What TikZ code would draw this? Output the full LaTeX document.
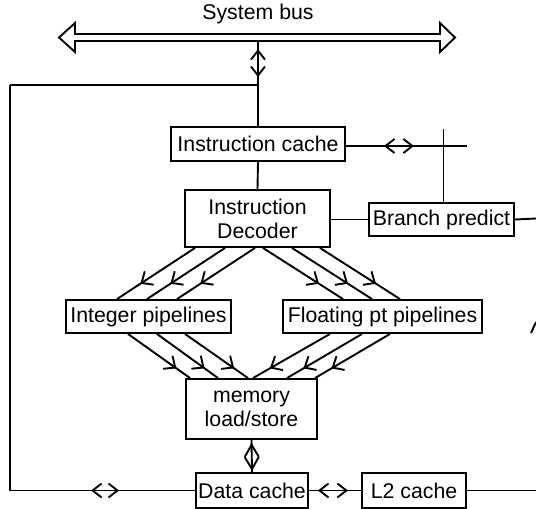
\documentclass[tikz,border=0pt]{standalone}
\usepackage{fontspec}
\setmainfont{Liberation Sans}
\usetikzlibrary{arrows.meta,decorations.markings}
\tikzset{
  chev/.tip={Straight Barb[length=9pt,width=14pt,line width=1.9pt]},
  vchev/.tip={Straight Barb[length=12pt,width=14pt,line width=1.9pt]},
  fchev/.tip={Straight Barb[length=9pt,width=16pt,line width=1.9pt]},
}
\begin{document}
\begin{tikzpicture}[x=1pt,y=-1pt,
  lw/.style={line width=1.9pt},
  box/.style={draw,lw,inner sep=0pt,align=center,font=\fontsize{21.3}{24}\selectfont},
  flow/.style={lw,postaction={decorate},decoration={markings,mark=at position #1 with {\arrow{fchev}}}},
]
\useasboundingbox (0,0) rectangle (536,509);
% system bus
\draw[lw] (59,37.5) -- (75,23) -- (75,34) -- (440,34) -- (440,23) -- (455,37.5) -- (440,52) -- (440,41) -- (75,41) -- (75,52) -- cycle;
\node[font=\fontsize{21.3}{24}\selectfont] (buslbl) at (258,14) {System bus};
\coordinate (bus) at (258,41);
% boxes
\node[box,minimum width=174pt,minimum height=34pt] (icache) at (258,144) {Instruction cache};
\node[box,minimum width=145pt,minimum height=57pt] (dec) at (257.5,218.5) {Instruction\\Decoder};
\node[box,minimum width=145pt,minimum height=33pt] (bp) at (441.5,219.5) {Branch predict};
\node[box,minimum width=165pt,minimum height=33pt] (intp) at (148.5,316.5) {Integer pipelines};
\node[box,minimum width=199pt,minimum height=33pt] (fpp) at (382.5,316.5) {Floating pt pipelines};
\node[box,minimum width=131pt,minimum height=60pt] (mem) at (251.5,409) {memory\\load/store};
\node[box,minimum width=112pt,minimum height=35pt] (dc) at (252,490.5) {Data cache};
\node[box,minimum width=104pt,minimum height=35pt] (l2) at (414,490.5) {L2 cache};
% coordinates
\coordinate (jl) at (258,85);
\coordinate (lt) at (10,85);
\coordinate (lb) at (10,490.5);
\coordinate (bj) at (443.5,146);
\coordinate (bjt) at (443.5,129);
\coordinate (bje) at (467,146);
\coordinate (r1) at (536,218.5);
\coordinate (r2) at (536,490.5);
\coordinate (s1) at (531,333);
\coordinate (s2) at (536,322);
% bus to icache
\draw[lw,postaction={decorate},decoration={markings,
  mark=at position 77pt with {\arrow{chev}},
  mark=at position 49pt with {\arrowreversed{chev}}}] (icache.north) -- (bus);
% left loop
\draw[lw] (lt) -- (jl);
\draw[lw,postaction={decorate},decoration={markings,
  mark=at position 104pt with {\arrow{chev}},
  mark=at position 76pt with {\arrowreversed{chev}}}] (dc.west) -- (lb) -- (lt);
% icache to decoder
\draw[lw] (icache.south) -- (dec.north);
% icache to branch junction
\draw[lw,postaction={decorate},decoration={markings,
  mark=at position 68pt with {\arrow{chev}},
  mark=at position 38pt with {\arrowreversed{chev}}}] (icache.east |- bje) -- (bje);
\draw[lw] ([xshift=2pt]bp.north) -- (bjt);
\draw[lw] (dec.east |- bp.west) -- (bp.west);
\draw[lw] (bp.east) -- (r1);
% data cache <-> L2
\draw[lw,postaction={decorate},decoration={markings,
  mark=at position 39pt with {\arrow{chev}},
  mark=at position 9pt with {\arrowreversed{chev}}}] (dc.east) -- (l2.west);
\draw[lw] (l2.east) -- (r2);
% mem <-> data cache
\draw[lw,postaction={decorate},decoration={markings,
  mark=at position 31pt with {\arrow{vchev}},
  mark=at position 3pt with {\arrowreversed{vchev}}}] (mem.south) -- (dc.north);
% stray mark on right
\draw[lw] (s1) -- (s2);
% decoder to pipelines
\foreach \a/\b in {-62.5/-31.5,-32.5/-1.5,-2.5/28.5}
  \draw[flow=0.7] ([xshift=\a pt]dec.south) -- ([xshift=\b pt]intp.north);
\foreach \a/\b in {5.5/-39.5,34.5/-10.5,62.5/17.5}
  \draw[flow=0.7] ([xshift=\a pt]dec.south) -- ([xshift=\b pt]fpp.north);
% pipelines to memory
\foreach \a/\b in {-20.5/-61.5,8.5/-33.5,36.5/-3.5}
  \draw[flow=0.78] ([xshift=\a pt]intp.south) -- ([xshift=\b pt]mem.north);
\foreach \a/\b in {-52.5/1.5,-20.5/35.5,7.5/63.5}
  \draw[flow=0.78] ([xshift=\a pt]fpp.south) -- ([xshift=\b pt]mem.north);
\end{tikzpicture}
\end{document}
